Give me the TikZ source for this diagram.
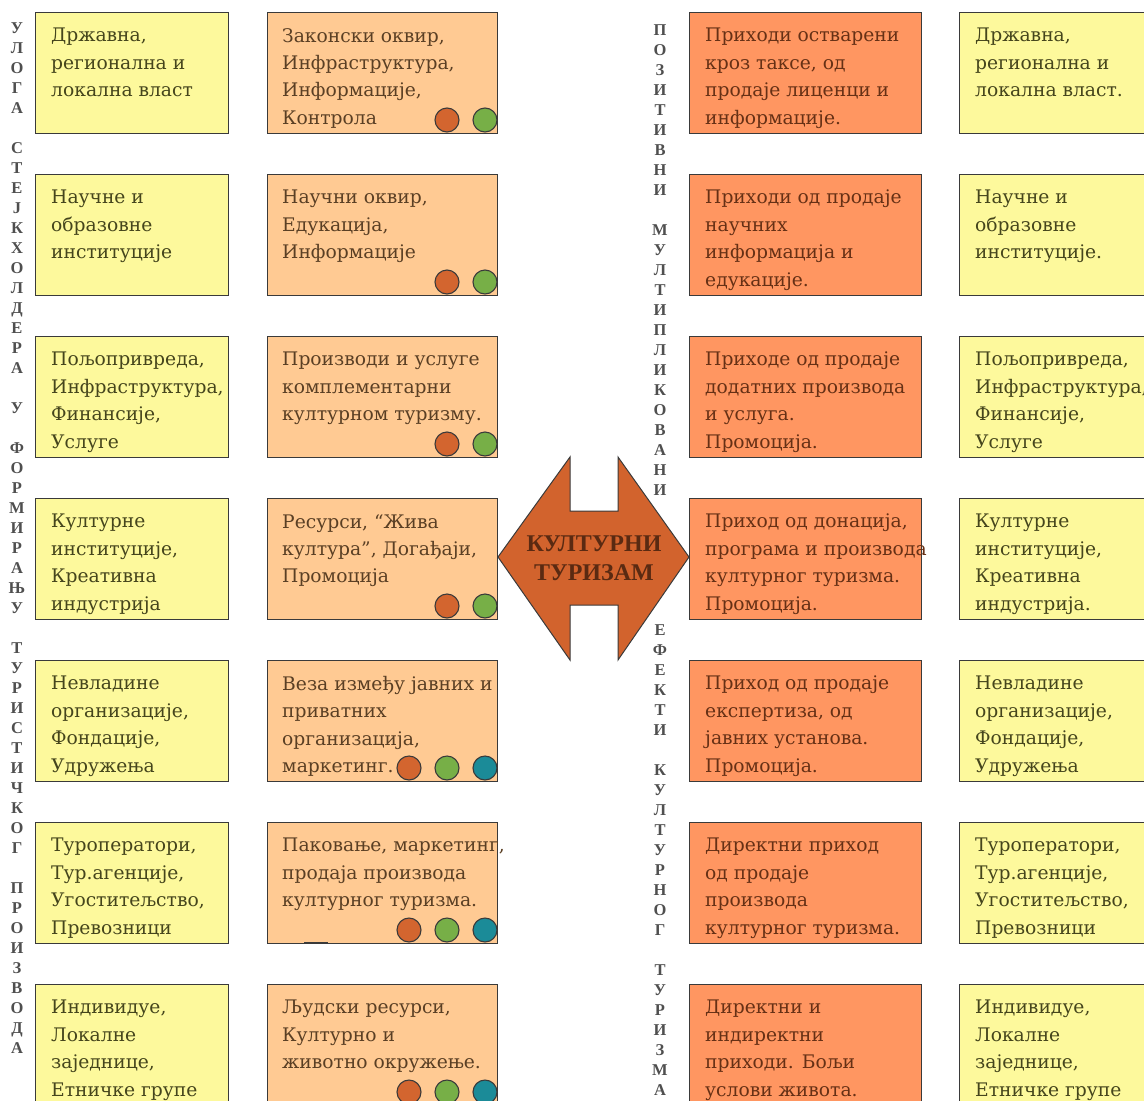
\documentclass[tikz,border=0pt]{standalone}
\usepackage{fontspec}
\setmainfont{DejaVu Serif}
\newfontfamily\capsfont{Liberation Serif}
\definecolor{edge}{HTML}{3A3A3A}
\definecolor{paleyel}{HTML}{FDF99C}
\definecolor{peach}{HTML}{FFCA93}
\definecolor{salmon}{HTML}{FF9661}
\definecolor{rust}{HTML}{D2632D}
\definecolor{yeltext}{HTML}{45451C}
\definecolor{peachtext}{HTML}{5A3F24}
\definecolor{salmtext}{HTML}{663015}
\definecolor{darkbrown}{HTML}{5A2A12}
\definecolor{lettergray}{HTML}{4F4F4F}
\definecolor{dotorg}{HTML}{D3652F}
\definecolor{dotgrn}{HTML}{77AF47}
\definecolor{dotteal}{HTML}{1B8B98}

\begin{document}
\begin{tikzpicture}[x=1pt,y=-1pt,
  box/.style={draw=edge,line width=1.2pt,anchor=north west,inner sep=0pt,minimum height=121pt},
  txt/.style={anchor=north west,inner sep=0pt,align=left,
    font=\fontsize{18.7}{27.4}\selectfont,execute at begin node=\strut},
  dot/.style={circle,draw=edge,line width=1.1pt,minimum size=24pt,inner sep=0pt},
  vlet/.style={anchor=base,inner sep=0pt,text=lettergray,
    font=\capsfont\bfseries\fontsize{16.5}{16.5}\selectfont}]
  \useasboundingbox (0,0) rectangle (1144,1101);
  \clip (0,0) rectangle (1144,1101);

  % rows: index / stakeholders / contribution / revenue / stakeholders again
  \foreach \r/\ta/\tb/\tc/\td in {
     0/{Државна,\\регионална и\\локална власт}/{Законски оквир,\\Инфраструктура,\\Информације,\\Контрола}/{Приходи остварени\\кроз таксе, од\\продаје лиценци и\\информације.}/{Државна,\\регионална и\\локална власт.},
     1/{Научне и\\образовне\\институције}/{Научни оквир,\\Едукација,\\Информације}/{Приходи од продаје\\научних\\информација и\\едукације.}/{Научне и\\образовне\\институције.},
     2/{Пољопривреда,\\Инфраструктура,\\Финансије,\\Услуге}/{Производи и услуге\\комплементарни\\културном туризму.}/{Приходе од продаје\\додатних производа\\и услуга.\\Промоција.}/{Пољопривреда,\\Инфраструктура,\\Финансије,\\Услуге},
     3/{Културне\\институције,\\Креативна\\индустрија}/{Ресурси, “Жива\\култура”, Догађаји,\\Промоција}/{Приход од донација,\\програма и производа\\културног туризма.\\Промоција.}/{Културне\\институције,\\Креативна\\индустрија.},
     4/{Невладине\\организације,\\Фондације,\\Удружења}/{Веза између јавних и\\приватних\\организација,\\маркетинг.}/{Приход од продаје\\експертиза, од\\јавних установа.\\Промоција.}/{Невладине\\организације,\\Фондације,\\Удружења},
     5/{Туроператори,\\Тур.агенције,\\Угоститељство,\\Превозници}/{Паковање, маркетинг,\\продаја производа\\културног туризма.}/{Директни приход\\од продаје\\производа\\културног туризма.}/{Туроператори,\\Тур.агенције,\\Угоститељство,\\Превозници},
     6/{Индивидуе,\\Локалне\\заједнице,\\Етничке групе}/{Људски ресурси,\\Културно и\\животно окружење.}/{Директни и\\индиректни\\приходи. Бољи\\услови живота.}/{Индивидуе,\\Локалне\\заједнице,\\Етничке групе}}{
       \pgfmathsetmacro\yy{12+162*\r}
       \node[box,fill=paleyel,minimum width=193pt] (stake\r) at (35,\yy) {};
       \node[txt,text=yeltext] (staketxt\r) at (51,\yy+16) {\ta};
       \node[box,fill=peach,minimum width=230pt] (input\r) at (267,\yy) {};
       \node[txt,text=peachtext] (inputtxt\r) at (282,\yy+16) {\tb};
       \node[box,fill=salmon,minimum width=232pt] (gain\r) at (689,\yy) {};
       \node[txt,text=salmtext] (gaintxt\r) at (705,\yy+16) {\tc};
       \node[box,fill=paleyel,minimum width=193pt] (party\r) at (959,\yy) {};
       \node[txt,text=yeltext] (partytxt\r) at (975,\yy+16) {\td};
  }

  % circles in the second column
  \foreach \r in {0,...,3}{
    \pgfmathsetmacro\yy{120+162*\r}
    \node[dot,fill=dotorg] (dotA\r) at (447,\yy) {};
    \node[dot,fill=dotgrn] (dotB\r) at (485,\yy) {};
  }
  \foreach \r in {4,5,6}{
    \pgfmathsetmacro\yy{120+162*\r}
    \node[dot,fill=dotorg] (dotA\r) at (409,\yy) {};
    \node[dot,fill=dotgrn] (dotB\r) at (447,\yy) {};
    \node[dot,fill=dotteal] (dotC\r) at (485,\yy) {};
  }
  \draw[edge,line width=2.4pt] (304,943) -- (328,943);

  % vertical captions
  \foreach \ch [count=\k] in {У,Л,О,Г,А,{},С,Т,Е,Ј,К,Х,О,Л,Д,Е,Р,А,{},У,{},Ф,О,Р,М,И,Р,А,Њ,У,{},Т,У,Р,И,С,Т,И,Ч,К,О,Г,{},П,Р,О,И,З,В,О,Д,А}
    \node[vlet] (roleL\k) at (17,{33+(\k-1)*20}) {\ch};
  \foreach \ch [count=\k] in {П,О,З,И,Т,И,В,Н,И,{},М,У,Л,Т,И,П,Л,И,К,О,В,А,Н,И}
    \node[vlet] (posM\k) at (660,{35+(\k-1)*20}) {\ch};
  \foreach \ch [count=\k] in {Е,Ф,Е,К,Т,И,{},К,У,Л,Т,У,Р,Н,О,Г,{},Т,У,Р,И,З,М,А}
    \node[vlet] (effM\k) at (660,{635+(\k-1)*20}) {\ch};

  % central double arrow
  \draw[fill=rust,draw=edge,line width=1pt,line join=miter]
    (498,557) -- (570,457) -- (570,511) -- (618,511) -- (618,457) -- (689,557)
    -- (618,660) -- (618,605) -- (570,605) -- (570,660) -- cycle;
  \node[align=center,text=darkbrown,inner sep=0pt,
    font=\capsfont\bfseries\fontsize{24}{29}\selectfont] (hub) at (594,558)
    {КУЛТУРНИ\\ТУРИЗАМ};
\end{tikzpicture}
\end{document}
